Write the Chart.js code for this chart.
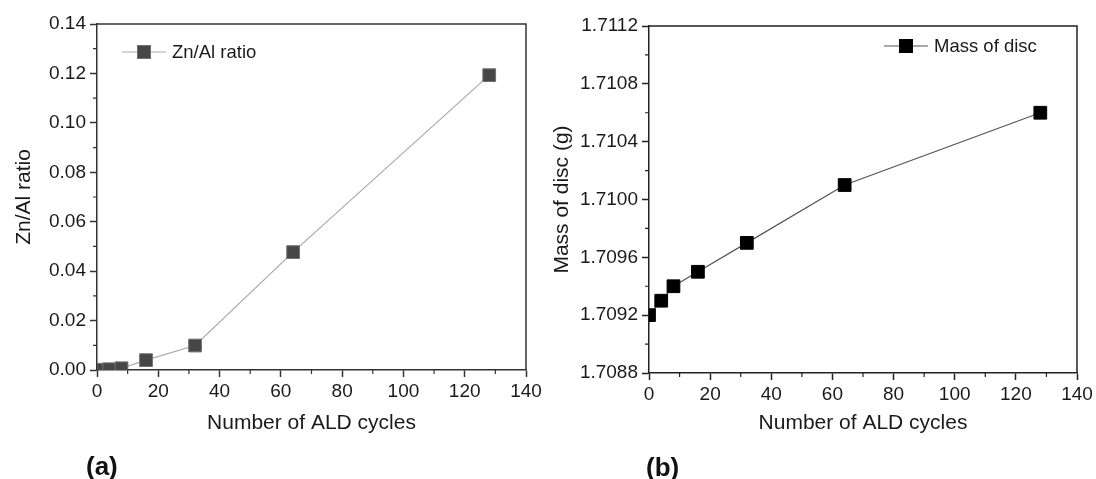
<!DOCTYPE html>
<html>
<head>
<meta charset="utf-8">
<script src="https://cdn.jsdelivr.net/npm/chart.js@4.4.0/dist/chart.umd.min.js"></script>
<style>
  body { margin: 0; background: #fff; width: 1096px; height: 479px; overflow: hidden; position: relative; font-family: 'Liberation Sans', Arial, sans-serif; }
  canvas { position: absolute; top: 0; }
  #chartA { left: 0; }
  #chartB { left: 548px; }
  .panel { position: absolute; font-weight: bold; font-size: 26px; color: #111; line-height: 30px; }
</style>
</head>
<body>
<canvas id="chartA" width="548" height="479"></canvas>
<canvas id="chartB" width="548" height="479"></canvas>
<div class="panel" style="left:86px; top:451px;">(a)</div>
<div class="panel" style="left:646px; top:452px;">(b)</div>
<script>
// data
const cycles_ratio = [2, 4, 8, 16, 32, 64, 128];
const znAlRatio = [0.0001, 0.0003, 0.0007, 0.0040, 0.0099, 0.0477, 0.1193];
const cycles_mass = [0, 4, 8, 16, 32, 64, 128];
const discMass = [1.7092, 1.7093, 1.7094, 1.7095, 1.7097, 1.7101, 1.7106];

const xTicks = [0, 20, 40, 60, 80, 100, 120, 140];
const ratioTicks = [0, 0.02, 0.04, 0.06, 0.08, 0.10, 0.12, 0.14];
const massTicks = [1.7088, 1.7092, 1.7096, 1.7100, 1.7104, 1.7108, 1.7112];

Chart.defaults.font.family = "'Liberation Sans', Arial, sans-serif";
Chart.defaults.color = '#1a1a1a';

// top/right frame, minor ticks and the inline legend
const origin_style = {
    id: 'origin_style',
    afterDatasetsDraw(chart, args, opts) {
        const { ctx, chartArea: a, scales } = chart;
        ctx.save();
        ctx.strokeStyle = opts.axisColor;
        ctx.lineWidth = 1.5;
        ctx.beginPath();
        ctx.moveTo(a.left, a.top);
        ctx.lineTo(a.right, a.top);
        ctx.lineTo(a.right, a.bottom);
        ctx.stroke();

        ctx.lineWidth = 1.2;
        ctx.beginPath();
        const tx = scales.x.ticks;
        for (let i = 0; i < tx.length - 1; i++) {
            const px = scales.x.getPixelForValue((tx[i].value + tx[i + 1].value) / 2);
            ctx.moveTo(px, a.bottom);
            ctx.lineTo(px, a.bottom + 4);
        }
        const ty = scales.y.ticks;
        for (let i = 0; i < ty.length - 1; i++) {
            const py = scales.y.getPixelForValue((ty[i].value + ty[i + 1].value) / 2);
            ctx.moveTo(a.left, py);
            ctx.lineTo(a.left - 4, py);
        }
        ctx.stroke();

        // legend: line + square + label
        const ds = chart.data.datasets[0];
        const lx = a.left + opts.dx, ly = a.top + opts.dy;
        ctx.strokeStyle = ds.borderColor;
        ctx.lineWidth = ds.borderWidth;
        ctx.beginPath();
        ctx.moveTo(lx, ly);
        ctx.lineTo(lx + 44, ly);
        ctx.stroke();
        ctx.fillStyle = ds.pointBorderColor;
        ctx.fillRect(lx + 15, ly - 7, 14, 14);
        ctx.fillStyle = ds.pointBackgroundColor;
        ctx.fillRect(lx + 16, ly - 6, 12, 12);
        ctx.fillStyle = '#1a1a1a';
        ctx.font = "18.5px 'Liberation Sans', Arial, sans-serif";
        ctx.textBaseline = 'middle';
        ctx.textAlign = 'left';
        ctx.fillText(ds.label, lx + 50, ly + 1);
        ctx.restore();
    },
};

function makeChart(id, xs, ys, opt) {
    return new Chart(document.getElementById(id).getContext('2d'), {
        type: 'scatter',
        data: {
            datasets: [{
                label: opt.label,
                data: xs.map((x, i) => ({ x: x, y: ys[i] })),
                showLine: true,
                borderColor: opt.lineColor,
                borderWidth: 1.2,
                pointStyle: 'rect',
                pointRadius: 9,
                pointHoverRadius: 9,
                pointBackgroundColor: opt.pointColor,
                pointBorderColor: opt.pointBorder,
                pointBorderWidth: 1,
                clip: 0,
            }],
        },
        options: {
            responsive: false,
            animation: false,
            layout: { padding: opt.padding },
            scales: {
                x: {
                    type: 'linear',
                    min: 0,
                    max: 140,
                    afterBuildTicks: s => { s.ticks = xTicks.map(v => ({ value: v })); },
                    afterFit: s => { s.height = opt.xHeight; },
                    ticks: { font: { size: 19 }, padding: 3, maxRotation: 0, callback: v => v },
                    grid: { drawOnChartArea: false, tickLength: 7, tickColor: opt.axisColor, tickWidth: 1.5 },
                    border: { color: opt.axisColor, width: 1.5 },
                    title: { display: true, text: 'Number of ALD cycles', font: { size: 21 }, padding: { top: 0, bottom: 43 } },
                },
                y: {
                    type: 'linear',
                    min: opt.yTicks[0],
                    max: opt.yTicks[opt.yTicks.length - 1],
                    afterBuildTicks: s => { s.ticks = opt.yTicks.map(v => ({ value: v })); },
                    afterFit: s => { s.width = opt.yWidth; },
                    ticks: { font: { size: 19 }, padding: 4, callback: v => v.toFixed(opt.decimals) },
                    grid: { drawOnChartArea: false, tickLength: 7, tickColor: opt.axisColor, tickWidth: 1.5 },
                    border: { color: opt.axisColor, width: 1.5 },
                    title: { display: true, text: opt.yTitle, font: { size: 21 }, padding: { top: opt.yTitlePad, bottom: 0 } },
                },
            },
            plugins: {
                legend: { display: false },
                tooltip: { enabled: false },
                origin_style: { axisColor: opt.axisColor, dx: opt.legendDx, dy: opt.legendDy },
            },
        },
        plugins: [origin_style],
    });
}

makeChart('chartA', cycles_ratio, znAlRatio, {
    label: 'Zn/Al ratio',
    lineColor: '#a9a9a9',
    pointColor: '#474747',
    pointBorder: '#707070',
    axisColor: '#333',
    yTicks: ratioTicks,
    decimals: 2,
    yTitle: 'Zn/Al ratio',
    yTitlePad: 12,
    yWidth: 97,
    xHeight: 109,
    padding: { left: 0, right: 22, top: 24, bottom: 0 },
    legendDx: 25,
    legendDy: 28,
});

makeChart('chartB', cycles_mass, discMass, {
    label: 'Mass of disc',
    lineColor: '#555',
    pointColor: '#000',
    pointBorder: '#000',
    axisColor: '#222',
    yTicks: massTicks,
    decimals: 4,
    yTitle: 'Mass of disc (g)',
    yTitlePad: 2,
    yWidth: 101,
    xHeight: 106,
    padding: { left: 0, right: 19, top: 26, bottom: 0 },
    legendDx: 235,
    legendDy: 20,
});
</script>
</body>
</html>
